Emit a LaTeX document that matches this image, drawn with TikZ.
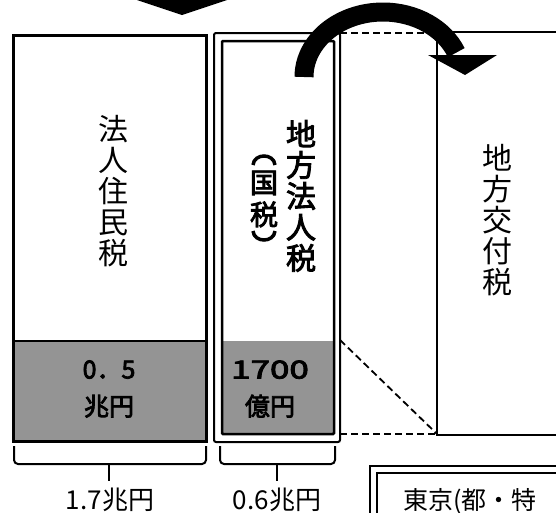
\documentclass[tikz,border=0pt]{standalone}
\usepackage{fontspec}
\usepackage{graphicx}
\newfontfamily\jp{Noto Sans CJK JP}
\newfontfamily\jpb[FakeBold=3]{Noto Sans CJK JP}
\begin{document}
\begin{tikzpicture}[x=1pt,y=-1pt,
  boxline/.style={draw=black,line width=2.5pt},
  dashline/.style={draw=black,line width=1.8pt,dash pattern=on 7pt off 4pt},
  brace/.style={draw=black,line width=2pt,rounded corners=4pt},
  shade/.style={fill=black!42},
  vtext/.style={inner sep=0pt,align=center,font=\jp\fontsize{30}{31}\selectfont},
  vbold/.style={inner sep=0pt,align=center,font=\jpb\fontsize{30}{31}\selectfont},
  amount/.style={inner sep=0pt,align=center,font=\jpb\fontsize{25}{37}\selectfont},
  label/.style={inner sep=0pt,font=\jp\fontsize{26}{28}\selectfont},
  paren/.style={draw=black,line width=3.5pt}]
\useasboundingbox (0,0) rectangle (556,512);
% top chevron
\fill (137,-3) -- (137,0) -- (182,15) -- (227,0) -- (227,-3) -- cycle;
% left box
\fill[shade] (13,341) rectangle (206,441);
\draw[boxline,line width=3pt] (13,35) rectangle (206,441);
\draw[line width=2pt] (13,341) -- (206,341);
\node[vtext] (hojin) at (113,191) {法\\人\\住\\民\\税};
\node[amount] (a05) at (109,389) {0．5\\兆円};
% middle box
\fill[shade] (222,341) rectangle (334,434);
\draw[line width=2pt,rounded corners=2pt] (214,33) rectangle (340,442);
\draw[boxline,rounded corners=1pt] (222,41) rectangle (334,434);
\node[vbold] (chiho) at (301,196) {地\\方\\法\\人\\税};
\node[vbold,font=\jpb\fontsize{28}{32}\selectfont] (koku) at (264,199) {国\\税};
\draw[paren] (253,165) .. controls (254,153) and (274,153) .. (275,165);
\draw[paren] (253,231) .. controls (254,243) and (274,243) .. (275,231);
\node[amount] (a1700) at (270,389) {\scalebox{1.4}[1]{1700}\\億円};
% right box
\draw[boxline] (560,32) -- (437,32) -- (437,435) -- (560,435);
\node[vtext] (kofu) at (497,220) {地\\方\\交\\付\\税};
% dashed connectors
\coordinate (mtr) at (340,33);
\coordinate (mbr) at (340,434);
\coordinate (mmr) at (340,340);
\coordinate (rtl) at (437,33);
\coordinate (rbl) at (437,434);
\draw[dashline] (mtr) -- (rtl);
\draw[dashline] (mbr) -- (rbl);
\draw[dashline] (mmr) -- (rbl);
% curved arrow
\draw[line width=19pt] (304,77) arc[start angle=180,end angle=338,x radius=79,y radius=65];
\fill (428,55) -- (497,55) -- (465,75) -- cycle;
% braces
\draw[brace] (14,446) -- (14,464) -- (206,464) -- (206,446);
\draw[line width=2pt] (109,464) -- (109,481);
\draw[brace] (220,446) -- (220,464) -- (335,464) -- (335,446);
\draw[line width=2pt] (277,464) -- (277,481);
\node[label] (l17) at (110,500) {1.7兆円};
\node[label] (l06) at (277,500) {0.6兆円};
% bottom right box
\draw[line width=2pt] (370,520) -- (370,466) -- (560,466);
\draw[line width=2pt] (377,520) -- (377,473) -- (560,473);
\node[label,anchor=west,font=\jp\fontsize{25}{27}\selectfont] (tokyo) at (403,501) {東京(都・特};
\end{tikzpicture}
\end{document}
